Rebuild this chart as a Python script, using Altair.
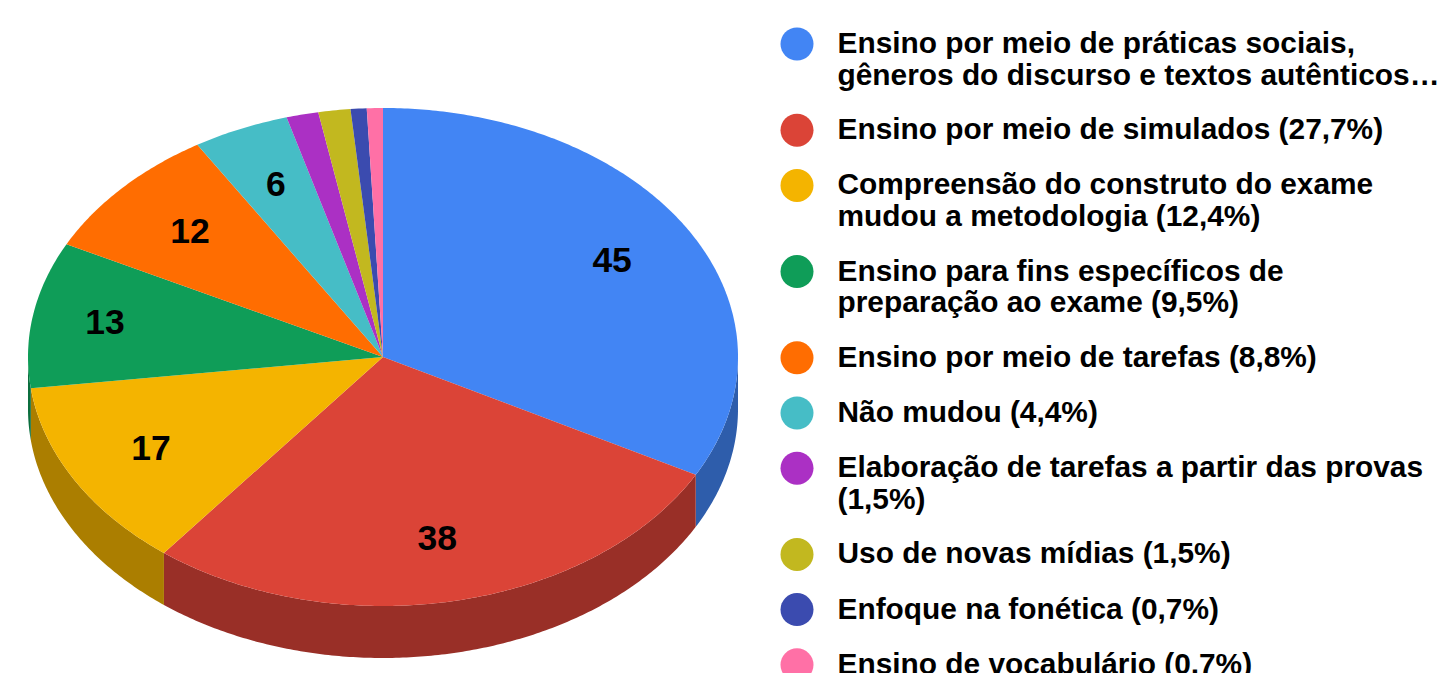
import math
import altair as alt

labels = [
    "Ensino por meio de práticas sociais,\ngêneros do discurso e textos autênticos…",
    "Ensino por meio de simulados (27,7%)",
    "Compreensão do construto do exame\nmudou a metodologia (12,4%)",
    "Ensino para fins específicos de\npreparação ao exame (9,5%)",
    "Ensino por meio de tarefas (8,8%)",
    "Não mudou (4,4%)",
    "Elaboração de tarefas a partir das provas\n(1,5%)",
    "Uso de novas mídias (1,5%)",
    "Enfoque na fonética (0,7%)",
    "Ensino de vocabulário (0,7%)",
]
values = [45, 38, 17, 13, 12, 6, 2, 2, 1, 1]
colors = ["#4285F4", "#DB4437", "#F4B400", "#0F9D58", "#FF6D01",
          "#46BDC6", "#AB30C4", "#C2B81F", "#3B4BAF", "#FF70A6"]
side_colors = ["#2E5DAB", "#992F27", "#AB7E00", "#0B6E3E", "#B24C01",
               "#318489", "#772289", "#888116", "#29347A", "#B24E74"]
label_radius = [0.752, 0.745, 0.751, 0.795, 0.74, 0.753, 0, 0, 0, 0]

TILT = 249 / 355      # ellipse squash of the pie top
DEPTH = 52 / 355      # thickness of the pie
total = sum(values)


def pt(a, r=1.0, drop=0.0):
    return [r * math.sin(a), r * TILT * math.cos(a) - drop]


def arc(a0, a1):
    n = max(2, int((a1 - a0) / 0.01))
    return [a0 + (a1 - a0) * i / n for i in range(n + 1)]


tops, sides, texts = [], [], []
cum = 0
for name, v, c, sc, lr in zip(labels, values, colors, side_colors, label_radius):
    a0 = 2 * math.pi * cum / total
    a1 = 2 * math.pi * (cum + v) / total
    cum += v
    ring = [[0, 0]] + [pt(a) for a in arc(a0, a1)] + [[0, 0]]
    tops.append({"type": "Feature", "geometry": {"type": "Polygon", "coordinates": [ring]},
                 "properties": {"name": name}})
    s0, s1 = max(a0, math.pi / 2), min(a1, 3 * math.pi / 2)
    if s1 > s0:
        angs = arc(s0, s1)
        band = [pt(a) for a in angs] + [pt(a, drop=DEPTH) for a in reversed(angs)]
        band.append(band[0])
        sides.append({"type": "Feature", "geometry": {"type": "Polygon", "coordinates": [band]},
                      "properties": {"c": sc}})
    if lr > 0:
        m = (a0 + a1) / 2
        x, y = pt(m, lr)
        texts.append({"lon": x, "lat": y, "v": v})

proj = alt.Projection(type="identity", scale=355, translate=[375, 349], reflectY=True)

side_layer = alt.Chart(alt.Data(values=sides)).mark_geoshape(strokeWidth=0).encode(
    fill=alt.Fill("properties.c:N", scale=None)
)
top_layer = alt.Chart(alt.Data(values=tops)).mark_geoshape(strokeWidth=0).encode(
    color=alt.Color(
        "properties.name:N",
        scale=alt.Scale(domain=labels, range=colors),
        sort=labels,
        legend=alt.Legend(
            title=None,
            orient="none",
            legendX=772.5,
            legendY=19.5,
            symbolType="circle",
            symbolSize=1089,
            symbolStrokeWidth=0,
            symbolOpacity=1,
            labelFont="Liberation Sans",
            labelFontWeight="bold",
            labelFontSize=29.85,
            labelColor="#000000",
            labelLimit=700,
            labelOffset=24,
            rowPadding=22.2,
            labelExpr="split(datum.label, '\\n')",
        ),
    )
)
text_layer = alt.Chart(alt.Data(values=texts)).mark_text(
    font="Liberation Sans", fontWeight="bold", fontSize=35.5, color="#000000"
).encode(longitude="lon:Q", latitude="lat:Q", text="v:Q")

chart = (
    alt.layer(side_layer, top_layer, text_layer, projection=proj)
    .resolve_scale(color="independent")
    .properties(width=1429, height=665, padding=0, autosize=alt.AutoSizeParams(type="none"))
    .configure_view(stroke=None)
)
chart.save("out.html", embed_options={"renderer": "svg", "actions": False})
